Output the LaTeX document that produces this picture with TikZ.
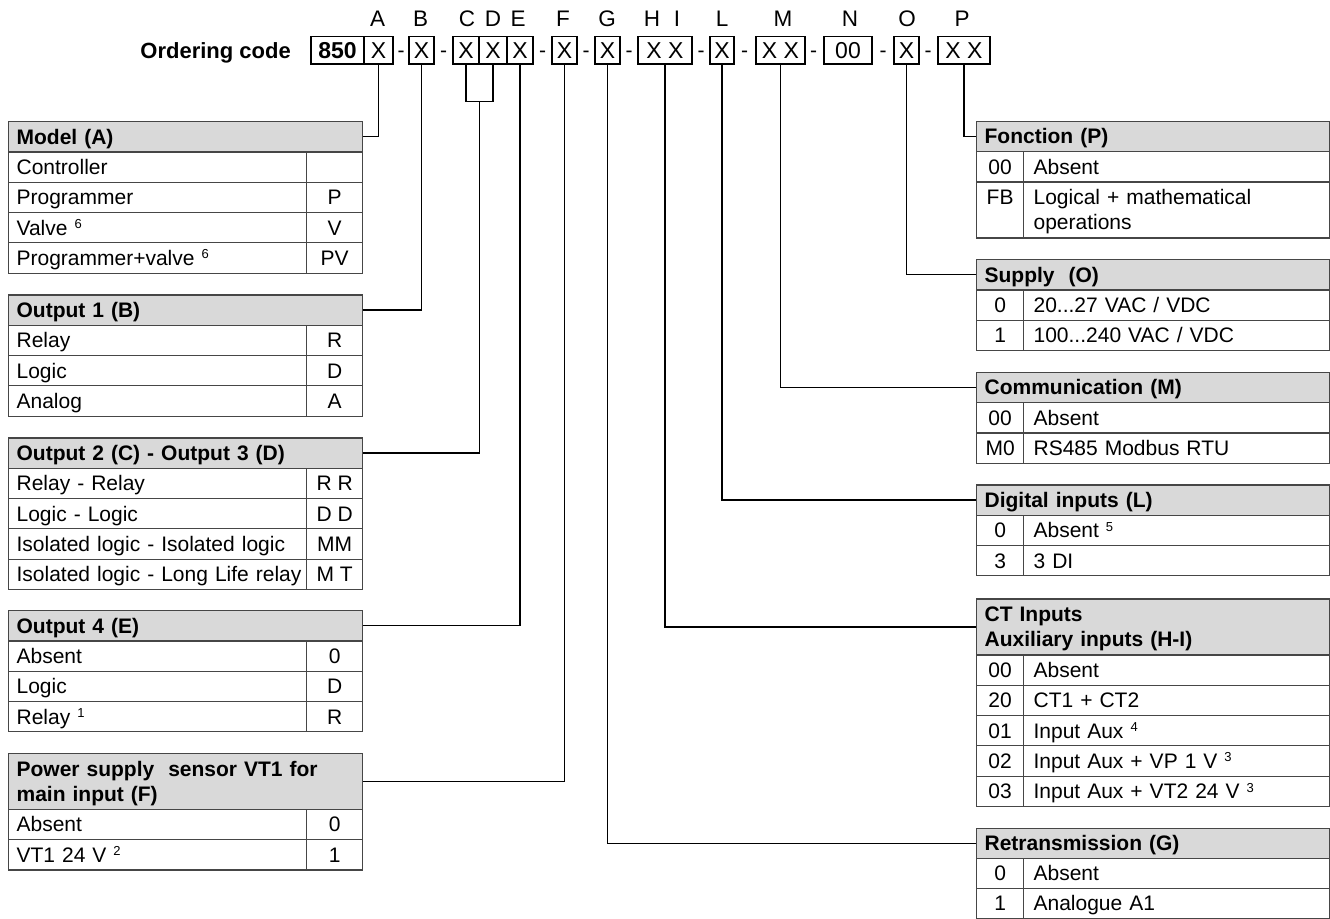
\documentclass[tikz,border=0pt]{standalone}
\usepackage{fontspec}
\setmainfont{Liberation Sans}
\usetikzlibrary{calc}
\definecolor{hgray}{RGB}{217,217,217}
\definecolor{tline}{RGB}{70,70,70}
\newcommand\tsz{\fontsize{21pt}{25pt}\selectfont}
\newcommand\footsup[1]{\raisebox{6.5pt}{\fontsize{13pt}{13pt}\selectfont #1}}
\newcommand\lrow[4]{\node[cellL] (#1a) at (8,#2) {\mbox{#3}}; \node[codeL] (#1b) at (306,#2) {#4};}
\newcommand\rrow[4]{\node[codeR] (#1a) at (976,#2) {#3}; \node[cellR] (#1b) at (1023,#2) {\mbox{#4}};}
\begin{document}
\begin{tikzpicture}[x=1pt,y=-1pt,
  tl/.style={draw=tline, line width=1.2pt},
  conn/.style={draw=black, line width=1.2pt},
  cellL/.style={tl, anchor=north west, text width=282pt, align=left, inner xsep=8pt, inner ysep=0pt, minimum height=30.3pt, text height=15pt, text depth=0pt, font=\tsz},
  codeL/.style={tl, anchor=north west, minimum width=56pt, minimum height=30.3pt, inner sep=0pt, text height=15pt, text depth=0pt, font=\tsz},
  hdrL/.style={tl, fill=hgray, anchor=north west, text width=338pt, align=left, inner xsep=8pt, inner ysep=0pt, minimum height=30.3pt, text height=15pt, text depth=0pt, font=\tsz\bfseries},
  codeR/.style={tl, anchor=north west, minimum width=47pt, minimum height=30.3pt, inner sep=0pt, text height=15pt, text depth=0pt, font=\tsz},
  cellR/.style={tl, anchor=north west, text width=286pt, align=left, inner xsep=10pt, inner ysep=0pt, minimum height=30.3pt, text height=15pt, text depth=0pt, font=\tsz},
  hdrR/.style={tl, fill=hgray, anchor=north west, text width=337pt, align=left, inner xsep=8pt, inner ysep=0pt, minimum height=30.3pt, text height=15pt, text depth=0pt, font=\tsz\bfseries},
  cbox/.style={draw=black, line width=1.2pt, minimum height=27.5pt, inner sep=0pt, font=\fontsize{23pt}{27pt}\selectfont, text height=16.5pt, text depth=0pt},
  lbl/.style={anchor=base, inner sep=0pt, font=\fontsize{22.5pt}{26pt}\selectfont},
  dsh/.style={anchor=base, inner sep=0pt, font=\fontsize{21pt}{25pt}\selectfont}
]
\useasboundingbox (0,0) rectangle (1330,918);

% ---- ordering code line ----
\node[anchor=base east, inner sep=0pt, font=\fontsize{22pt}{26pt}\selectfont\bfseries] (oc) at (291,58) {Ordering code};
\node[cbox, minimum width=53pt] (b850) at (337.5,50.25) {\bfseries 850};
\node[cbox, minimum width=29pt] (bA) at (378.5,50.25) {X};
\node[cbox, minimum width=25pt] (bB) at (421.5,50.25) {X};
\node[cbox, minimum width=26pt] (bC) at (466,50.25) {X};
\node[cbox, minimum width=28pt] (bD) at (493,50.25) {X};
\node[cbox, minimum width=26pt] (bE) at (520,50.25) {X};
\node[cbox, minimum width=25pt] (bF) at (564.5,50.25) {X};
\node[cbox, minimum width=25pt] (bG) at (607.5,50.25) {X};
\node[cbox, minimum width=54pt] (bHI) at (665,50.25) {X X};
\node[cbox, minimum width=24pt] (bL) at (722,50.25) {X};
\node[cbox, minimum width=49pt] (bM) at (780.5,50.25) {X X};
\node[cbox, minimum width=48pt] (bN) at (848,50.25) {00};
\node[cbox, minimum width=25pt] (bO) at (906.5,50.25) {X};
\node[cbox, minimum width=52pt] (bP) at (964,50.25) {X X};

\node[dsh] (d1) at (401,57) {-};
\node[dsh] (d2) at (443.5,57) {-};
\node[dsh] (d3) at (542.5,57) {-};
\node[dsh] (d4) at (586,57) {-};
\node[dsh] (d5) at (629,57) {-};
\node[dsh] (d6) at (701,57) {-};
\node[dsh] (d7) at (744.5,57) {-};
\node[dsh] (d8) at (813.5,57) {-};
\node[dsh] (d9) at (883,57) {-};
\node[dsh] (d10) at (928,57) {-};

\node[lbl] (lA) at (377.5,27) {A};
\node[lbl] (lB) at (420.5,27) {B};
\node[lbl] (lC) at (467,27) {C};
\node[lbl] (lD) at (493,27) {D};
\node[lbl] (lE) at (518,27) {E};
\node[lbl] (lF) at (563,27) {F};
\node[lbl] (lG) at (607,27) {G};
\node[lbl] (lH) at (652,27) {H};
\node[lbl] (lI) at (677,27) {I};
\node[lbl] (lL) at (722,27) {L};
\node[lbl] (lM) at (783,27) {M};
\node[lbl] (lN) at (850,27) {N};
\node[lbl] (lO) at (907,27) {O};
\node[lbl] (lP) at (962,27) {P};

% ---- left tables ----
\node[hdrL] (hA) at (8,121) {Model (A)};
\lrow{ra1}{151.3}{Controller}{}
\lrow{ra2}{181.6}{Programmer}{P}
\lrow{ra3}{211.9}{Valve \footsup{6}}{V}
\lrow{ra4}{242.2}{Programmer+valve \footsup{6}}{PV}

\node[hdrL] (hB) at (8,294.3) {Output 1 (B)};
\lrow{rb1}{324.6}{Relay}{R}
\lrow{rb2}{354.9}{Logic}{D}
\lrow{rb3}{385.2}{Analog}{A}

\node[hdrL] (hCD) at (8,437.3) {Output 2 (C) - Output 3 (D)};
\lrow{rc1}{467.6}{Relay - Relay}{R R}
\lrow{rc2}{497.9}{Logic - Logic}{D D}
\lrow{rc3}{528.2}{Isolated logic - Isolated logic}{MM}
\lrow{rc4}{558.5}{Isolated logic - Long Life relay}{M T}

\node[hdrL] (hE) at (8,610) {Output 4 (E)};
\lrow{re1}{640.3}{Absent}{0}
\lrow{re2}{670.6}{Logic}{D}
\lrow{re3}{700.9}{Relay \footsup{1}}{R}

\node[hdrL, minimum height=56pt, text depth=25pt] (hF) at (8,752.7) {Power supply\ \ sensor VT1 for\\main input (F)};
\lrow{rf1}{808.7}{Absent}{0}
\lrow{rf2}{839}{VT1 24 V \footsup{2}}{1}

% ---- right tables ----
\node[hdrR] (hP) at (976,120.7) {Fonction (P)};
\rrow{rp1}{151}{00}{Absent}
\node[codeR, minimum height=56pt, text depth=25pt] (rp2a) at (976,181.3) {FB};
\node[cellR, minimum height=56pt, text depth=25pt] (rp2b) at (1023,181.3) {Logical + mathematical\\operations};

\node[hdrR] (hO) at (976,259) {Supply\ \ (O)};
\rrow{ro1}{289.3}{0}{20...27 VAC / VDC}
\rrow{ro2}{319.6}{1}{100...240 VAC / VDC}

\node[hdrR] (hM) at (976,371.7) {Communication (M)};
\rrow{rm1}{402}{00}{Absent}
\rrow{rm2}{432.3}{M0}{RS485 Modbus RTU}

\node[hdrR] (hL) at (976,484.3) {Digital inputs (L)};
\rrow{rl1}{514.6}{0}{Absent \footsup{5}}
\rrow{rl2}{544.9}{3}{3 DI}

\node[hdrR, minimum height=56pt, text depth=25pt] (hHI) at (976,598.3) {CT Inputs\\Auxiliary inputs (H-I)};
\rrow{rh1}{654.3}{00}{Absent}
\rrow{rh2}{684.6}{20}{CT1 + CT2}
\rrow{rh3}{714.9}{01}{Input Aux \footsup{4}}
\rrow{rh4}{745.2}{02}{Input Aux + VP 1 V \footsup{3}}
\rrow{rh5}{775.5}{03}{Input Aux + VT2 24 V \footsup{3}}

\node[hdrR, minimum height=30pt] (hG) at (976,827.5) {Retransmission (G)};
\node[codeR, minimum height=30pt] (rg1a) at (976,857.5) {0};
\node[cellR, minimum height=30pt] (rg1b) at (1023,857.5) {Absent};
\node[codeR, minimum height=30pt] (rg2a) at (976,887.5) {1};
\node[cellR, minimum height=30pt] (rg2b) at (1023,887.5) {Analogue A1};

% ---- connectors ----
\draw[conn] (bA.south) |- (hA.east);
\draw[conn] (bB.south) |- (hB.east);
\coordinate (cdL) at ($(bC.south)+(0,37)$);
\coordinate (cdR) at (cdL -| bD.south);
\coordinate (cdM) at ($(cdL)!0.5!(cdR)$);
\draw[conn] (bC.south) -- (cdL) -- (cdR) -- (bD.south);
\draw[conn] (cdM) |- (hCD.east);
\draw[conn] (bE.south) |- (hE.east);
\draw[conn] (bF.south) |- (hF.east);
\draw[conn] (bG.south) |- (hG.west);
\draw[conn] (bHI.south) |- (hHI.west);
\draw[conn] (bL.south) |- (hL.west);
\draw[conn] (bM.south) |- (hM.west);
\draw[conn] (bO.south) |- (hO.west);
\draw[conn] (bP.south) |- (hP.west);
\end{tikzpicture}
\end{document}
